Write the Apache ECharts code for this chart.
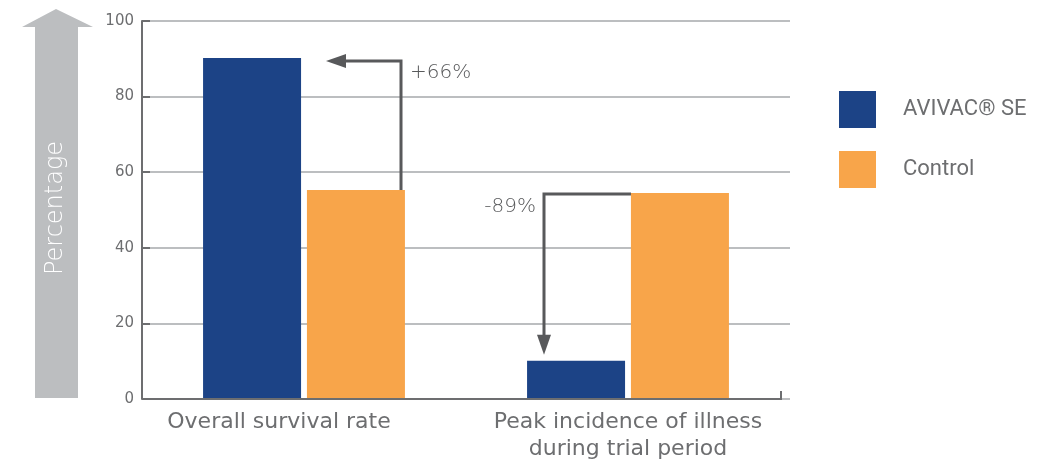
<!DOCTYPE html>
<html>
<head>
<meta charset="utf-8">
<script src="https://cdn.jsdelivr.net/npm/echarts@6/dist/echarts.min.js"></script>
<style>
  html, body { margin: 0; padding: 0; background: #fff; }
  #chart { width: 1043px; height: 467px; }
</style>
</head>
<body>
<div id="chart"></div>
<script>
// data
const categories = ['Overall survival rate', 'Peak incidence of illness\nduring trial period']
const avivac = [90.2, 10.1]
const control = [55.3, 54.5]
const yTicks = [0, 20, 40, 60, 80, 100]
const changeLabels = ['+66%', '-89%']

const BLUE = '#1c4386'
const ORANGE = '#f8a54a'
const DARK = '#58595b'
const AXIS = '#6d6e70'
const FONT = '"DejaVu Sans", sans-serif'

const chart = echarts.init(document.getElementById('chart'))

const option = {
  animation: false,
  grid: { left: 142, right: 253, top: 21, bottom: 68 },
  legend: {
    orient: 'vertical',
    left: 834,
    top: 86,
    itemWidth: 37,
    itemHeight: 37,
    itemGap: 23,
    icon: 'rect',
    data: ['AVIVAC® SE', 'Control'],
    textStyle: {
      color: AXIS,
      fontSize: 22,
      fontFamily: 'Roboto, "Liberation Sans", sans-serif',
      padding: [0, 0, 0, 22]
    }
  },
  xAxis: {
    type: 'category',
    data: categories,
    axisLine: { show: false },
    axisTick: { show: false },
    axisLabel: {
      interval: 0,
      hideOverlap: false,
      color: AXIS,
      fontSize: 22,
      fontFamily: FONT,
      lineHeight: 27,
      margin: 10,
      formatter: (v, i) => i === 0 ? '{a|' + v + '}' : v,
      rich: { a: { color: AXIS, fontSize: 22, fontFamily: FONT, lineHeight: 27, padding: [0, 50, 0, 0] } }
    }
  },
  yAxis: {
    type: 'value',
    min: 0,
    max: 100,
    interval: 20,
    axisLine: { show: true, lineStyle: { color: AXIS, width: 2 } },
    axisTick: { show: true, inside: true, length: 8, lineStyle: { color: AXIS, width: 2 } },
    axisLabel: { color: AXIS, fontSize: 15, fontFamily: FONT, margin: 8 },
    splitLine: { lineStyle: { color: '#bcbec0', width: 2 } }
  },
  series: [
    {
      name: 'AVIVAC® SE',
      type: 'bar',
      barWidth: 98,
      barGap: '6%',
      itemStyle: { color: BLUE },
      data: avivac
    },
    {
      name: 'Control',
      type: 'bar',
      barWidth: 98,
      itemStyle: { color: ORANGE },
      data: control
    }
  ]
}

chart.setOption(option)

// decorations: axis baseline, "Percentage" arrow, change arrows
const px = (i, v) => chart.convertToPixel({ xAxisIndex: 0, yAxisIndex: 0 }, [i, v])
const y0 = px(0, 0)[1]
const c1 = px(0, 0)[0]
const c2 = px(1, 0)[0]
const gridRight = 1043 - 253
const axisEnd = gridRight - 9

const lineStyle = { stroke: DARK, lineWidth: 3, fill: null }
const headStyle = { fill: DARK }

const yBlue1 = px(0, avivac[0])[1]
const yOr1 = px(0, control[0])[1]
const yBlue2 = px(1, avivac[1])[1]
const yOr2 = px(1, control[1])[1]

const vx1 = c1 + 97
const hy1 = yBlue1 + 3
const tip1 = c1 + 22
const hy2 = yOr2 + 1
const vx2 = c2 - 84
const tip2 = yBlue2 - 6

chart.setOption({
  graphic: [
    {
      type: 'polyline',
      shape: { points: [[142, y0], [axisEnd, y0], [axisEnd, y0 - 8]] },
      style: { stroke: AXIS, lineWidth: 2, fill: null },
      z: 10
    },
    {
      type: 'polygon',
      shape: { points: [[35, 398], [35, 27], [22, 27], [56, 9], [93, 27], [78, 27], [78, 398]] },
      style: { fill: '#bcbec0' }
    },
    {
      type: 'text',
      x: 56, y: 208,
      rotation: Math.PI / 2,
      style: {
        text: 'Percentage', fill: '#fff', fontSize: 24, fontWeight: 200,
        fontFamily: FONT, align: 'center', verticalAlign: 'middle'
      }
    },
    // +66% arrow
    {
      type: 'polyline',
      shape: { points: [[vx1, yOr1], [vx1, hy1], [tip1 + 14, hy1]] },
      style: lineStyle
    },
    {
      type: 'polygon',
      shape: { points: [[tip1, hy1], [tip1 + 20, hy1 - 7], [tip1 + 20, hy1 + 7]] },
      style: headStyle
    },
    {
      type: 'text',
      x: c1 + 106, y: hy1 + 12,
      style: {
        text: changeLabels[0], fill: DARK, fontSize: 20, fontWeight: 200,
        fontFamily: FONT, align: 'left', verticalAlign: 'middle'
      }
    },
    // -89% arrow
    {
      type: 'polyline',
      shape: { points: [[c2 + 3, hy2], [vx2, hy2], [vx2, tip2 - 14]] },
      style: lineStyle
    },
    {
      type: 'polygon',
      shape: { points: [[vx2, tip2], [vx2 - 7, tip2 - 20], [vx2 + 7, tip2 - 20]] },
      style: headStyle
    },
    {
      type: 'text',
      x: vx2 - 8, y: hy2 + 13,
      style: {
        text: changeLabels[1], fill: DARK, fontSize: 20, fontWeight: 200,
        fontFamily: FONT, align: 'right', verticalAlign: 'middle'
      }
    }
  ]
})
</script>
</body>
</html>
